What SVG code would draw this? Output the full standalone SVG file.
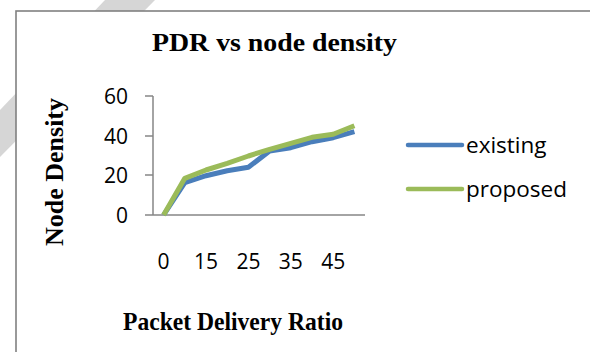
<svg xmlns="http://www.w3.org/2000/svg" width="590" height="352" viewBox="0 0 590 352">
<style>
.title{font-family:"Liberation Serif",serif;font-weight:bold;font-size:26px;fill:#000}
.tick{font-family:"Open Sans","Liberation Sans",sans-serif;font-size:21px;fill:#000}
.leg{font-family:"Open Sans","Liberation Sans",sans-serif;font-size:22.5px;fill:#000}
.axis{stroke:#868686;stroke-width:1.5;fill:none}
.s1{stroke:#4a7ebb;stroke-width:5;fill:none;stroke-linejoin:round}
.s2{stroke:#9bbb59;stroke-width:5;fill:none;stroke-linejoin:round}
</style>
<rect width="590" height="352" fill="#fff"/>
<polygon points="105,0 155,0 0,157 0,110" fill="#d6d6d6"/>
<g id="frame">
<rect x="16" y="11" width="580" height="350" fill="#fff" stroke="#808080" stroke-width="1.6"/>
</g>
<text class="title" x="274.5" y="51" text-anchor="middle" font-size="27.5" textLength="245" lengthAdjust="spacingAndGlyphs">PDR vs node density</text>
<g id="axes">
<path class="axis" d="M153,96 V215 M145,96 H153 M145,136 H153 M145,175 H153 M145,215 H365"/>
<text class="tick" x="128" y="103.5" text-anchor="end">60</text>
<text class="tick" x="128" y="143.5" text-anchor="end">40</text>
<text class="tick" x="128" y="182.5" text-anchor="end">20</text>
<text class="tick" x="128" y="222.5" text-anchor="end">0</text>
<text class="tick" x="163.6" y="269" text-anchor="middle">0</text>
<text class="tick" x="206" y="269" text-anchor="middle">15</text>
<text class="tick" x="248.4" y="269" text-anchor="middle">25</text>
<text class="tick" x="290.8" y="269" text-anchor="middle">35</text>
<text class="tick" x="333.2" y="269" text-anchor="middle">45</text>
</g>
<text class="title" transform="translate(63,172) rotate(-90)" text-anchor="middle">Node Density</text>
<text class="title" x="233" y="330" text-anchor="middle" textLength="220" lengthAdjust="spacingAndGlyphs">Packet Delivery Ratio</text>
<g id="connectors">
<polyline id="existing" class="s1" points="163.6,215 184.8,182.7 206,175.7 227.2,170.7 248.4,167.3 269.6,151 290.8,147.7 312,141.7 333.2,137.7 354.4,131.7"/>
<polyline id="proposed" class="s2" points="163.6,215 184.8,178.3 206,170 227.2,163.3 248.4,156 269.6,149.3 290.8,143.3 312,137.3 333.2,134.3 354.4,125.7"/>
</g>
<g id="legend">
<line x1="408" y1="145" x2="462" y2="145" stroke="#4a7ebb" stroke-width="4.5" stroke-linecap="round"/>
<text class="leg" x="466" y="153">existing</text>
<line x1="408" y1="189" x2="462" y2="189" stroke="#9bbb59" stroke-width="4.5" stroke-linecap="round"/>
<text class="leg" x="466" y="197">proposed</text>
</g>
</svg>
